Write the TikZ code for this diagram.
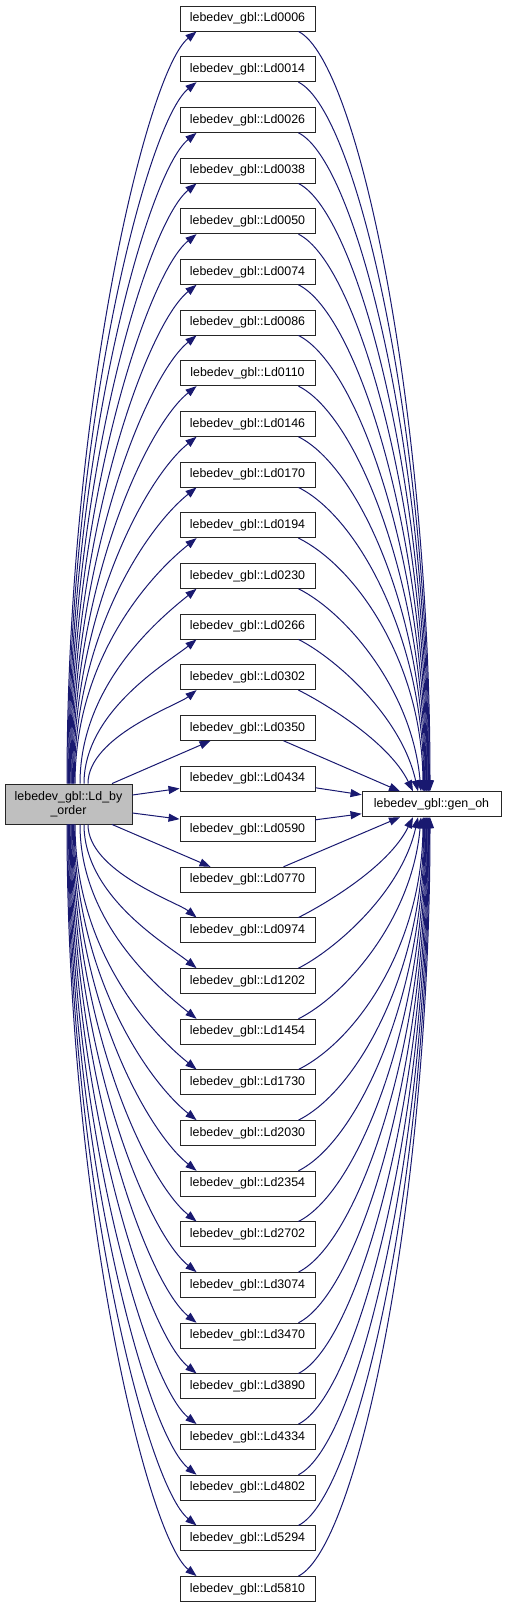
\documentclass[tikz,border=0pt]{standalone}
\usepackage{fontspec}
\setmainfont{Liberation Sans}
\usetikzlibrary{arrows.meta,calc}
\definecolor{edgecol}{HTML}{191970}
\definecolor{boxgray}{HTML}{BFBFBF}
\begin{document}
\begin{tikzpicture}[x=1pt,y=-1pt,
  box/.style={draw=black!85,line width=0.9pt,inner sep=0pt,font=\fontsize{12.4}{14.5}\selectfont},
  mbox/.style={box,fill=white,minimum width=135pt,minimum height=25pt},
  edge/.style={draw=edgecol,line width=1pt,-{Triangle[length=11pt,width=8pt]}}]
\useasboundingbox (0,0) rectangle (507,1608);
\node[box,fill=boxgray,minimum width=127pt,minimum height=40pt,align=center] (lb) at (68.5,804) {lebedev\_gbl::Ld\_by\\\_order};
\node[box,fill=white,minimum width=139pt,minimum height=25pt] (g) at (431.5,804.25) {lebedev\_gbl::gen\_oh};
\foreach \lab [count=\n from 0] in {0006,0014,0026,0038,0050,0074,0086,0110,0146,0170,0194,0230,0266,0302,0350,0434,0590,0770,0974,1202,1454,1730,2030,2354,2702,3074,3470,3890,4334,4802,5294,5810}{
  \node[mbox] (m\n) at (247.5,{18.55+50.66*\n}) {lebedev\_gbl::Ld\lab};
}
\foreach \k in {0,...,15}{
 \foreach \s in {-1,1}{
  \ifnum\s<0
    \pgfmathtruncatemacro\i{15-\k}\def\la{north}\def\ma{south}
  \else
    \pgfmathtruncatemacro\i{16+\k}\def\la{south}\def\ma{north}
  \fi
  \ifnum\k=0
    \draw[edge] ($(lb.east)+(0,{\s*9})$) -- ($(m\i.west)+(0,{-\s*10})$);
    \draw[edge] ($(m\i.east)+(0,{-\s*9.3})$) -- ($(g.west)+(0,{\s*9.5})$);
  \else\ifnum\k=1
    \draw[edge] ($(lb.\la)+(43.5,0)$) -- ($(m\i.\ma\space west)+(31,0)$);
    \draw[edge] ($(m\i.\ma\space east)+(-32,0)$) -- ($(g.\la)+(-31.5,0)$);
  \else
    \pgfmathsetmacro\d{25.33+50.66*\k}
    \pgfmathsetmacro\H{\d-32.5}
    \pgfmathsetmacro\Hb{\d-25}
    \pgfmathsetmacro\f{min(1,\H/250)}
    \ifcase\k\or\or
      \def\sx{19.5}\def\hx{-18.5}\or
      \def\sx{15.5}\def\hx{-13.5}\or
      \def\sx{11.5}\def\hx{-10.5}\else
      \pgfmathsetmacro\sx{-1.5+(15-\k)*0.8}
      \pgfmathsetmacro\hx{-8.5+(\k-5)*0.7}
    \fi
    \pgfmathsetmacro\ay{\s*0.5*\H}
    \pgfmathsetmacro\bx{17-50*\f}
    \pgfmathsetmacro\by{-\s*40*\f}
    \pgfmathsetmacro\cx{-17+60*\f}
    \pgfmathsetmacro\cy{-\s*30*\f}
    \pgfmathsetmacro\ex{\hx-40*(1-\f)}
    \pgfmathsetmacro\ey{\s*0.5*\Hb}
    \draw[edge] ($(lb.\la)+(\sx,0)$) .. controls ($(lb.\la)+(\sx,\ay)$) and ($(m\i.\ma\space west)+(\bx,\by)$) .. ($(m\i.\ma\space west)+(17,0)$);
    \draw[edge] ($(m\i.\ma\space east)+(-17,0)$) .. controls ($(m\i.\ma\space east)+(\cx,\cy)$) and ($(g.\la)+(\ex,\ey)$) .. ($(g.\la)+(\hx,0)$);
  \fi\fi
 }
}
\end{tikzpicture}
\end{document}
